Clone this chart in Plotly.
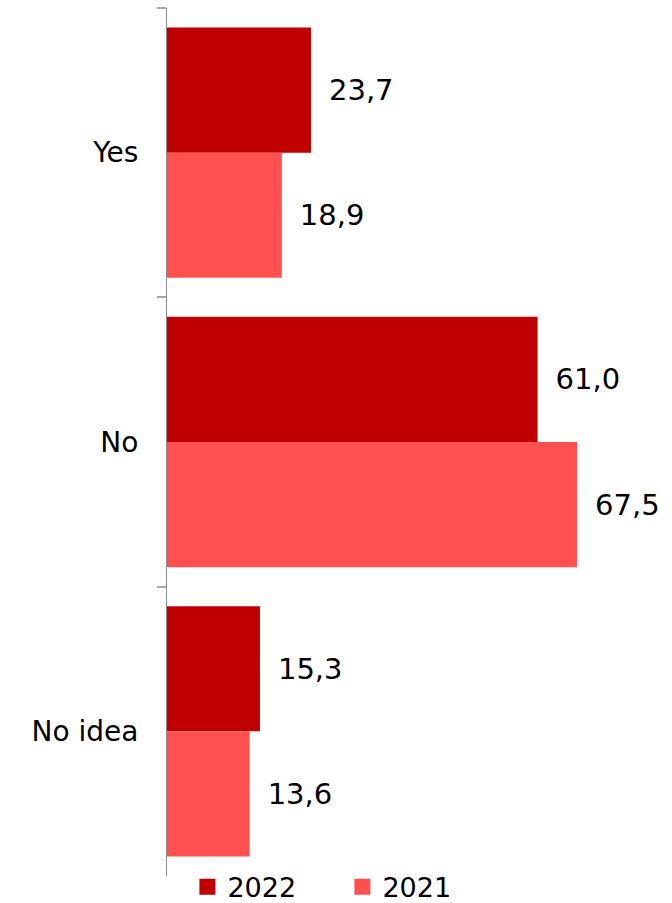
import plotly.graph_objects as go

categories = ["Yes", "No", "No idea"]
series_names = ["2022", "2021"]
values_2022 = [23.7, 61.0, 15.3]
values_2021 = [18.9, 67.5, 13.6]
colors = ["#C00000", "#FF5050"]

FONT = "DejaVu Sans, Verdana, sans-serif"

def fmt(v):
    return "\u00a0\u2009" + f"{v:.1f}".replace(".", ",")

fig = go.Figure()
for name, vals, col in zip(series_names, [values_2022, values_2021], colors):
    fig.add_trace(go.Bar(
        y=categories, x=vals, orientation="h", name=name,
        marker=dict(color=col, line=dict(width=0)),
        text=[fmt(v) for v in vals], textposition="outside",
        textfont=dict(family=FONT, size=29, color="#000000"),
        cliponaxis=False, showlegend=False,
    ))
    fig.add_trace(go.Scatter(
        x=[None], y=[None], mode="markers", name=name,
        marker=dict(symbol="square", size=17, color=col),
        showlegend=True,
    ))

fig.update_layout(
    width=672, height=903,
    margin=dict(l=167, r=19, t=8, b=27, autoexpand=False),
    paper_bgcolor="white", plot_bgcolor="white",
    barmode="group", bargap=0.135, bargroupgap=0,
    font=dict(family=FONT, size=28, color="#000000"),
    legend=dict(orientation="h", x=0.042, xanchor="left", y=-0.013, yanchor="middle",
                font=dict(family=FONT, size=27), entrywidth=110, bgcolor="rgba(0,0,0,0)",
                itemsizing="trace"),
    xaxis=dict(visible=False, range=[0, 80], showgrid=False, zeroline=False),
    yaxis=dict(autorange="reversed", showgrid=False, zeroline=False,
               showline=True, linecolor="#8C8C8C", linewidth=1,
               ticks="outside", tickson="boundaries", ticklen=9, tickcolor="#A6A6A6", tickwidth=2,
               ticklabelstandoff=22, tickfont=dict(family=FONT, size=28, color="#000000")),
)

fig.write_html("out.html", config={"displayModeBar": False},
               post_script="document.body.style.margin='0';document.body.style.padding='0';")
